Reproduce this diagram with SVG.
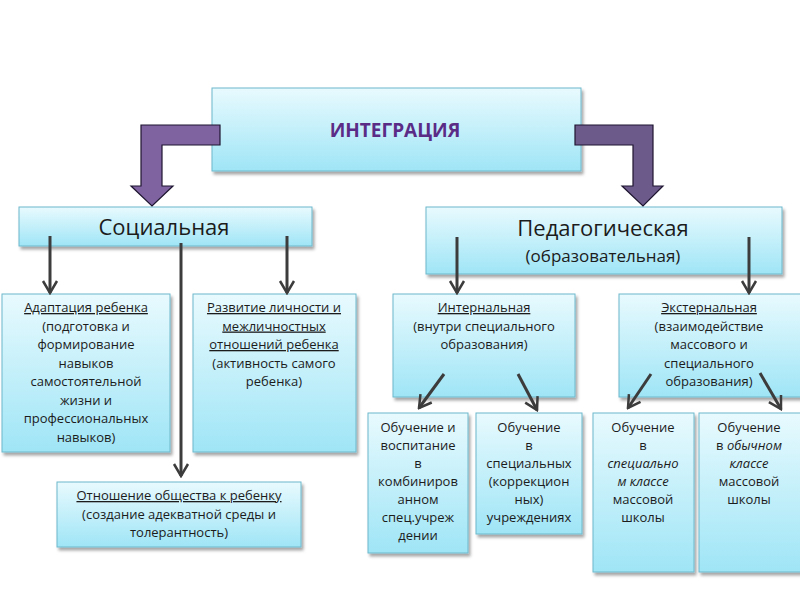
<svg xmlns="http://www.w3.org/2000/svg" width="800" height="600" viewBox="0 0 800 600">
<defs>
<linearGradient id="g" x1="0" y1="0" x2="0" y2="1">
<stop offset="0" stop-color="#e8fafe"/>
<stop offset="1" stop-color="#9fe5f6"/>
</linearGradient>
<filter id="sh" x="-10%" y="-10%" width="120%" height="130%">
<feDropShadow dx="2" dy="3" stdDeviation="1.5" flood-color="#000" flood-opacity="0.35"/>
</filter>
<marker id="ah" viewBox="-2 -9 16 18" refX="12" refY="0" markerWidth="16" markerHeight="18" markerUnits="userSpaceOnUse" orient="auto">
<path d="M0,-7 L12,0 L0,7" fill="none" stroke="#3c3c3c" stroke-width="2.5"/>
</marker>
<style>
.box{fill:url(#g);stroke:#6db8cb;stroke-width:1;filter:url(#sh)}
.t{font-family:"Open Sans","DejaVu Sans",sans-serif;font-size:13px;fill:#1c1c1c;text-anchor:middle}
.u{text-decoration:underline}
.i{font-style:italic}
.big{font-family:"Open Sans","DejaVu Sans",sans-serif;font-size:22px;fill:#1c1c1c;text-anchor:middle}
.med{font-family:"Open Sans","DejaVu Sans",sans-serif;font-size:17px;fill:#1c1c1c;text-anchor:middle}
.con{stroke:#3c3c3c;stroke-width:3;fill:none;marker-end:url(#ah)}
.bar{stroke:#1e1530;stroke-width:1.2}
</style>
</defs>
<rect width="800" height="600" fill="#ffffff"/>

<g id="integration">
<rect class="box" x="212" y="88" width="369" height="83"/>
<text x="395" y="137" font-family="'Open Sans','DejaVu Sans',sans-serif" font-size="19" font-weight="bold" fill="#5b2c86" text-anchor="middle">ИНТЕГРАЦИЯ</text>
</g>

<g id="social">
<rect class="box" x="19" y="207" width="293" height="39"/>
<text class="big" x="164" y="235">Социальная</text>
</g>

<g id="pedagogical">
<rect class="box" x="426" y="207" width="356" height="67"/>
<text class="big" x="603" y="236">Педагогическая</text>
<text class="med" x="603" y="262">(образовательная)</text>
</g>

<g id="adaptation">
<rect class="box" x="2" y="294" width="168" height="158"/>
<text class="t" x="86" y="312"><tspan class="u">Адаптация ребенка</tspan><tspan x="86" dy="18.5">(подготовка и</tspan><tspan x="86" dy="18.5">формирование</tspan><tspan x="86" dy="18.5">навыков</tspan><tspan x="86" dy="18.5">самостоятельной</tspan><tspan x="86" dy="18.5">жизни и</tspan><tspan x="86" dy="18.5">профессиональных</tspan><tspan x="86" dy="18.5">навыков)</tspan></text>
</g>

<g id="development">
<rect class="box" x="193" y="294" width="163" height="158"/>
<text class="t" x="274" y="312"><tspan class="u">Развитие личности и</tspan><tspan x="274" dy="18.5" class="u">межличностных</tspan><tspan x="274" dy="18.5" class="u">отношений ребенка</tspan><tspan x="274" dy="18.5">(активность самого</tspan><tspan x="274" dy="18.5">ребенка)</tspan></text>
</g>

<g id="relation">
<rect class="box" x="57" y="482" width="244" height="65"/>
<text class="t" x="179" y="500"><tspan class="u">Отношение общества к ребенку</tspan><tspan x="179" dy="18.5">(создание адекватной среды и</tspan><tspan x="179" dy="18.5">толерантность)</tspan></text>
</g>

<g id="internal">
<rect class="box" x="393" y="294" width="182" height="103"/>
<text class="t" x="484" y="312"><tspan class="u">Интернальная</tspan><tspan x="484" dy="18.5">(внутри специального</tspan><tspan x="484" dy="18.5">образования)</tspan></text>
</g>

<g id="external">
<rect class="box" x="619" y="294" width="185" height="103"/>
<text class="t" x="709" y="312"><tspan class="u">Экстернальная</tspan><tspan x="709" dy="18.5">(взаимодействие</tspan><tspan x="709" dy="18.5">массового и</tspan><tspan x="709" dy="18.5">специального</tspan><tspan x="709" dy="18.5">образования)</tspan></text>
</g>

<g id="combined">
<rect class="box" x="368" y="413" width="100" height="140"/>
<text class="t" x="418" y="432"><tspan>Обучение и</tspan><tspan x="418" dy="18">воспитание</tspan><tspan x="418" dy="18">в</tspan><tspan x="418" dy="18">комбиниров</tspan><tspan x="418" dy="18">анном</tspan><tspan x="418" dy="18">спец.учреж</tspan><tspan x="418" dy="18">дении</tspan></text>
</g>

<g id="special">
<rect class="box" x="476" y="413" width="106" height="121"/>
<text class="t" x="529" y="432"><tspan>Обучение</tspan><tspan x="529" dy="18">в</tspan><tspan x="529" dy="18">специальных</tspan><tspan x="529" dy="18">(коррекцион</tspan><tspan x="529" dy="18">ных)</tspan><tspan x="529" dy="18">учреждениях</tspan></text>
</g>

<g id="special-class">
<rect class="box" x="593" y="413" width="101" height="159"/>
<text class="t" x="643" y="432"><tspan>Обучение</tspan><tspan x="643" dy="18">в</tspan><tspan x="643" dy="18" class="i">специально</tspan><tspan x="643" dy="18" class="i">м классе</tspan><tspan x="643" dy="18">массовой</tspan><tspan x="643" dy="18">школы</tspan></text>
</g>

<g id="regular-class">
<rect class="box" x="699" y="413" width="105" height="159"/>
<text class="t" x="749" y="432"><tspan>Обучение</tspan><tspan x="749" dy="18">в <tspan class="i">обычном</tspan></tspan><tspan x="749" dy="18" class="i">классе</tspan><tspan x="749" dy="18">массовой</tspan><tspan x="749" dy="18">школы</tspan></text>
</g>

<g id="connectors">
<polygon class="bar" fill="#7f63a1" points="220,125 141,125 141,186 131,186 152,206 173,186 162,186 162,145 220,145"/>
<polygon class="bar" fill="#6c5a8a" points="575,125 653,125 653,186 663,186 643,206 622,186 633,186 633,145 575,145"/>
<line class="con" x1="50" y1="236" x2="50" y2="293"/>
<line class="con" x1="287" y1="236" x2="287" y2="293"/>
<line class="con" x1="181" y1="243" x2="181" y2="476"/>
<line class="con" x1="457" y1="237" x2="457" y2="293"/>
<line class="con" x1="749" y1="237" x2="749" y2="293"/>
<line class="con" x1="444" y1="374" x2="419" y2="408"/>
<line class="con" x1="518" y1="374" x2="537" y2="410"/>
<line class="con" x1="651" y1="374" x2="628" y2="408"/>
<line class="con" x1="760" y1="373" x2="781" y2="409"/>
</g>
</svg>
